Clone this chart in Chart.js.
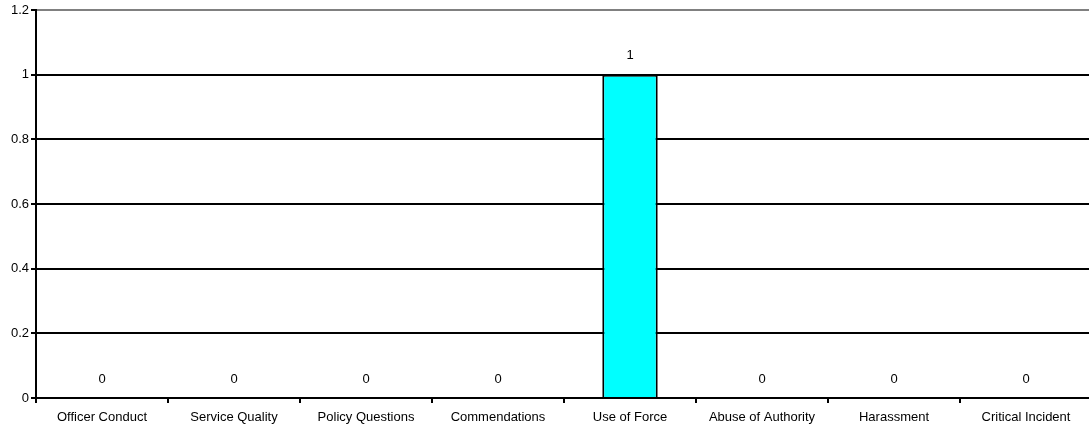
<!DOCTYPE html>
<html>
<head>
<meta charset="utf-8">
<script src="https://cdn.jsdelivr.net/npm/chart.js@4/dist/chart.umd.min.js"></script>
<style>
  html, body { margin: 0; padding: 0; background: #fff; overflow: hidden; }
  #wrap { width: 1092px; height: 431px; position: relative; }
</style>
</head>
<body>
<div id="wrap"><canvas id="c"></canvas></div>
<script>
// ---- data ----
const categories = ['Officer Conduct', 'Service Quality', 'Policy Questions', 'Commendations',
  'Use of Force', 'Abuse of Authority', 'Harassment', 'Critical Incident'];
const counts = [0, 0, 0, 0, 1, 0, 0, 0];
const yTicks = [0, 0.2, 0.4, 0.6, 0.8, 1, 1.2];

const FONT = 'Arial, "Liberation Sans", sans-serif';

// value labels above each bar
const valueLabels = {
  id: 'valueLabels',
  afterDatasetsDraw(chart) {
    const { ctx } = chart;
    const meta = chart.getDatasetMeta(0);
    ctx.save();
    ctx.font = '13px ' + FONT;
    ctx.fillStyle = '#000';
    ctx.textAlign = 'center';
    ctx.textBaseline = 'middle';
    meta.data.forEach((bar, i) => {
      ctx.fillText(String(counts[i]), bar.x, bar.y - 19);
    });
    ctx.restore();
  },
};

new Chart(document.getElementById('c'), {
  type: 'bar',
  data: {
    labels: categories,
    datasets: [{
      data: counts,
      backgroundColor: '#00ffff',
      borderColor: '#000',
      borderWidth: 2,
      borderSkipped: 'bottom',
      barPercentage: 0.42,
      categoryPercentage: 1,
    }],
  },
  options: {
    responsive: true,
    maintainAspectRatio: false,
    animation: false,
    layout: { padding: { top: 10, right: 0, left: 0, bottom: 0 } },
    plugins: { legend: { display: false }, tooltip: { enabled: false } },
    scales: {
      x: {
        grid: { drawOnChartArea: false, drawTicks: true, tickLength: 5, color: '#000', lineWidth: 2, offset: true },
        border: { color: '#000', width: 2 },
        ticks: { color: '#000', font: { family: FONT, size: 13 }, padding: 7, maxRotation: 0, autoSkip: false },
        afterFit: (s) => { s.height = 33; },
      },
      y: {
        min: 0, max: 1.2,
        afterBuildTicks: (s) => { s.ticks = yTicks.map((v) => ({ value: v })); },
        grid: {
          color: (c) => (c.tick && c.tick.value === 1.2 ? '#808080' : '#000'),
          lineWidth: 2, tickLength: 5, tickColor: '#000',
        },
        border: { color: '#000', width: 2 },
        ticks: { color: '#000', font: { family: FONT, size: 13 }, padding: 2, callback: (v) => String(v) },
        afterFit: (s) => { s.width = 36; },
      },
    },
  },
  plugins: [valueLabels],
});
</script>
</body>
</html>
